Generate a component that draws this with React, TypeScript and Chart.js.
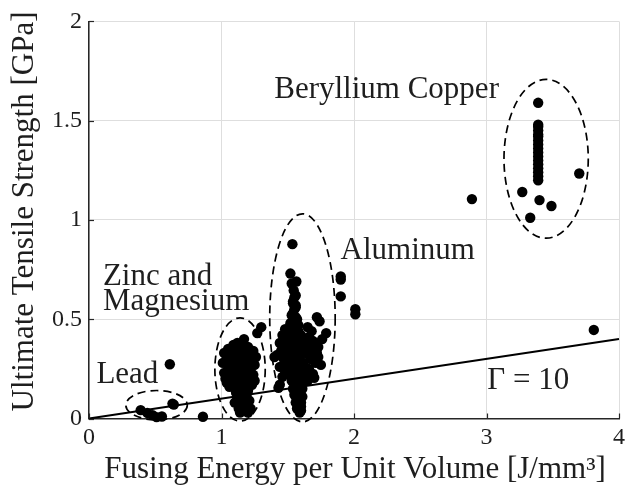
import { useEffect, useRef } from "react";
import { Chart, registerables } from "chart.js";

Chart.register(...registerables);

// Axis ticks
const xTicks = [0, 1, 2, 3, 4];
const yTicks = [0, 0.5, 1, 1.5, 2];

// Lead
const leadEnergy = [0.39, 0.44, 0.48, 0.51, 0.55, 0.63, 0.64, 0.61, 0.86];
const leadStrength = [0.042, 0.028, 0.017, 0.007, 0.01, 0.075, 0.07, 0.273, 0.009];

// Zinc and magnesium
const zincEnergy = [
  1.17, 1.12, 1.09, 1.2, 1.05, 1.14, 1.24, 1.02, 1.1, 1.18, 1.26, 1.04, 1.13, 1.21, 1.01,
  1.08, 1.16, 1.25, 1.05, 1.11, 1.2, 1.02, 1.15, 1.24, 1.07, 1.12, 1.19, 1.04, 1.23, 1.09,
  1.15, 1.2, 1.11, 1.17, 1.12, 1.21, 1.15, 1.19, 1.13, 1.17, 1.22, 1.3, 1.27,
  1.06, 1.15, 1.22, 1.07, 1.13, 1.18, 1.22, 1.09, 1.17, 1.03, 1.1, 1.21, 1.06, 1.14, 1.18,
  1.25, 1.13, 1.19, 1.16, 1.1, 1.14, 1.2, 1.11, 1.16, 1.07, 1.19,
];
const zincStrength = [
  0.4, 0.38, 0.37, 0.36, 0.35, 0.35, 0.34, 0.33, 0.33, 0.32, 0.31, 0.3, 0.3, 0.29, 0.28,
  0.28, 0.27, 0.27, 0.25, 0.25, 0.24, 0.23, 0.22, 0.22, 0.21, 0.2, 0.19, 0.18, 0.17, 0.16,
  0.15, 0.14, 0.13, 0.11, 0.1, 0.09, 0.07, 0.06, 0.05, 0.04, 0.05, 0.46, 0.43,
  0.32, 0.33, 0.31, 0.26, 0.27, 0.26, 0.25, 0.23, 0.23, 0.2, 0.19, 0.2, 0.16, 0.17, 0.16,
  0.19, 0.12, 0.12, 0.09, 0.08, 0.03, 0.03, 0.35, 0.37, 0.3, 0.3,
];

// Aluminum
const aluminumEnergy = [
  1.535, 1.52, 1.53, 1.565, 1.545, 1.55, 1.54, 1.56, 1.55, 1.54, 1.56, 1.55, 1.53, 1.57,
  1.48, 1.46, 1.5, 1.47, 1.44, 1.49, 1.45, 1.42, 1.4, 1.47, 1.5, 1.44, 1.48, 1.46, 1.44, 1.43,
  1.53, 1.56, 1.52, 1.58, 1.54, 1.57, 1.53, 1.56, 1.52, 1.59, 1.55, 1.53, 1.57, 1.54, 1.59,
  1.56, 1.53, 1.58, 1.55, 1.57, 1.54, 1.59, 1.56, 1.58, 1.55, 1.57, 1.59, 1.56, 1.58, 1.57,
  1.59, 1.58, 1.56, 1.59, 1.58, 1.6, 1.58, 1.6, 1.59, 1.6, 1.59,
  1.51, 1.58, 1.51, 1.58, 1.51, 1.6, 1.52, 1.61, 1.53, 1.61, 1.54, 1.61, 1.55, 1.61, 1.56,
  1.57, 1.56, 1.54, 1.56, 1.53, 1.57, 1.52, 1.58, 1.61, 1.62, 1.6,
  1.72, 1.74, 1.65, 1.68, 1.79, 1.76, 1.63, 1.71, 1.66, 1.7, 1.64, 1.68, 1.73, 1.75, 1.62,
  1.66, 1.69, 1.7, 1.63, 1.65, 1.66, 1.69, 1.73, 1.67, 1.71, 1.64, 1.67, 1.72, 1.63,
  1.9, 1.9, 1.9, 2.01, 2.01,
];
const aluminumStrength = [
  0.878, 0.73, 0.68, 0.69, 0.645, 0.61, 0.59, 0.57, 0.55, 0.53, 0.51, 0.49, 0.47, 0.46,
  0.45, 0.42, 0.41, 0.4, 0.38, 0.36, 0.34, 0.32, 0.31, 0.3, 0.28, 0.26, 0.24, 0.21, 0.17, 0.155,
  0.44, 0.43, 0.42, 0.41, 0.4, 0.38, 0.37, 0.36, 0.35, 0.34, 0.33, 0.32, 0.31, 0.3, 0.29,
  0.28, 0.27, 0.26, 0.25, 0.24, 0.23, 0.22, 0.21, 0.2, 0.19, 0.18, 0.17, 0.16, 0.15, 0.14,
  0.13, 0.12, 0.11, 0.1, 0.09, 0.08, 0.07, 0.06, 0.05, 0.04, 0.03,
  0.4, 0.44, 0.33, 0.35, 0.26, 0.27, 0.22, 0.24, 0.19, 0.19, 0.15, 0.15, 0.12, 0.11, 0.08,
  0.05, 0.56, 0.58, 0.62, 0.52, 0.5, 0.48, 0.47, 0.33, 0.37, 0.42,
  0.51, 0.49, 0.46, 0.44, 0.43, 0.4, 0.4, 0.38, 0.36, 0.355, 0.33, 0.32, 0.31, 0.27, 0.28,
  0.25, 0.225, 0.205, 0.22, 0.19, 0.41, 0.39, 0.36, 0.3, 0.28, 0.23, 0.21, 0.33, 0.35,
  0.715, 0.7, 0.615, 0.55, 0.525,
];

// Beryllium copper
const berylliumEnergy = [
  3.39, 3.39, 3.39, 3.39, 3.39, 3.39, 3.39, 3.39, 3.39, 3.39, 3.39, 3.39, 3.39, 3.39, 3.39,
  3.39, 3.39, 3.7, 3.27, 3.4, 3.49, 3.33, 2.89, 3.81,
];
const berylliumStrength = [
  1.59, 1.48, 1.47, 1.45, 1.43, 1.42, 1.4, 1.38, 1.36, 1.34, 1.32, 1.3, 1.28, 1.26, 1.24,
  1.22, 1.2, 1.234, 1.141, 1.1, 1.07, 1.011, 1.105, 0.446,
];

// Reference line, Gamma = 10
const gammaEnergy = [0, 4];
const gammaStrength = [0, 0.4];

// Dashed outlines around each material group (centre and half-widths, data units)
const groupNames = ["Lead", "Zinc", "Aluminum", "Beryllium"];
const groupCenterX = [0.51, 1.14, 1.611, 3.45];
const groupCenterY = [0.067, 0.247, 0.507, 1.308];
const groupRadiusX = [0.232, 0.19, 0.247, 0.318];
const groupRadiusY = [0.074, 0.26, 0.524, 0.4];

// Text labels (left edge and baseline, data units)
const labelTexts = ["Beryllium Copper", "Aluminum", "Zinc and", "Magnesium", "Lead", "Γ = 10"];
const labelX = [1.398, 1.899, 0.105, 0.105, 0.056, 3.006];
const labelY = [1.614, 0.803, 0.674, 0.546, 0.18, 0.151];

const xTitle = "Fusing Energy per Unit Volume [J/mm³]";
const yTitle = "Ultimate Tensile Strength [GPa]";

const FONT = '"Liberation Serif", "Times New Roman", serif';
const TEXT_COLOR = "#1e1e1e";

const toPoints = (xs: number[], ys: number[]) => xs.map((x, i) => ({ x, y: ys[i] }));

const overlay = {
  id: "overlay",
  afterDatasetsDraw(chart: any) {
    const { ctx, chartArea } = chart;
    const xs = chart.scales.x;
    const ys = chart.scales.y;
    ctx.save();

    // inward tick marks
    ctx.strokeStyle = "#262626";
    ctx.lineWidth = 1.2;
    xTicks.forEach((v) => {
      const px = Math.round(xs.getPixelForValue(v)) + 0.5;
      ctx.beginPath();
      ctx.moveTo(px, chartArea.bottom);
      ctx.lineTo(px, chartArea.bottom - 5);
      ctx.stroke();
    });
    yTicks.forEach((v) => {
      const py = Math.round(ys.getPixelForValue(v)) + 0.5;
      ctx.beginPath();
      ctx.moveTo(chartArea.left, py);
      ctx.lineTo(chartArea.left + 5, py);
      ctx.stroke();
    });

    // dashed group outlines
    ctx.strokeStyle = "#000";
    ctx.lineWidth = 1.7;
    ctx.setLineDash([8, 5]);
    groupNames.forEach((_, i) => {
      const cx = xs.getPixelForValue(groupCenterX[i]);
      const cy = ys.getPixelForValue(groupCenterY[i]);
      const rx = Math.abs(xs.getPixelForValue(groupCenterX[i] + groupRadiusX[i]) - cx);
      const ry = Math.abs(ys.getPixelForValue(groupCenterY[i] + groupRadiusY[i]) - cy);
      ctx.beginPath();
      ctx.ellipse(cx, cy, rx, ry, 0, 0, Math.PI * 2);
      ctx.stroke();
    });
    ctx.setLineDash([]);

    // group labels
    ctx.fillStyle = TEXT_COLOR;
    ctx.font = `31px ${FONT}`;
    ctx.textAlign = "left";
    ctx.textBaseline = "alphabetic";
    labelTexts.forEach((t, i) => {
      ctx.fillText(t, xs.getPixelForValue(labelX[i]), ys.getPixelForValue(labelY[i]));
    });

    // axis titles
    ctx.textAlign = "center";
    ctx.fillText(xTitle, (chartArea.left + chartArea.right) / 2 + 1, chartArea.bottom + 59.5);
    ctx.translate(33, (chartArea.top + chartArea.bottom) / 2 - 8.5);
    ctx.rotate(-Math.PI / 2);
    ctx.fillText(yTitle, 0, 0);

    ctx.restore();
  },
};

export default function App() {
  const canvasRef = useRef<HTMLCanvasElement | null>(null);

  useEffect(() => {
    if (!canvasRef.current) return;
    const pointStyle = {
      type: "scatter" as const,
      pointRadius: 5.2,
      pointBackgroundColor: "#000",
      pointBorderWidth: 0,
      showLine: false,
      clip: false as const,
    };
    const tickFont = { family: FONT, size: 24 };
    const chart = new Chart(canvasRef.current, {
      type: "scatter",
      data: {
        datasets: [
          {
            type: "line",
            label: "Γ = 10",
            data: toPoints(gammaEnergy, gammaStrength),
            borderColor: "#000",
            borderWidth: 2,
            pointRadius: 0,
            fill: false,
            clip: false,
          } as any,
          { ...pointStyle, label: "Lead", data: toPoints(leadEnergy, leadStrength) },
          { ...pointStyle, label: "Zinc and Magnesium", data: toPoints(zincEnergy, zincStrength) },
          { ...pointStyle, label: "Aluminum", data: toPoints(aluminumEnergy, aluminumStrength) },
          { ...pointStyle, label: "Beryllium Copper", data: toPoints(berylliumEnergy, berylliumStrength) },
        ],
      },
      options: {
        responsive: false,
        animation: false,
        events: [],
        layout: { padding: { top: 14, right: 6, left: 0, bottom: 0 } },
        plugins: { legend: { display: false }, tooltip: { enabled: false } },
        scales: {
          x: {
            type: "linear",
            min: 0,
            max: 4,
            afterBuildTicks: (scale: any) => {
              scale.ticks = xTicks.map((value) => ({ value }));
            },
            afterFit: (scale: any) => {
              scale.height = 76.5;
            },
            grid: { color: "#dedede", lineWidth: 1, drawTicks: false },
            border: { color: "#262626", width: 1.5 },
            ticks: {
              padding: 5,
              color: TEXT_COLOR,
              font: tickFont,
              callback: (v: any) => String(v),
            },
          },
          y: {
            type: "linear",
            min: 0,
            max: 2,
            afterBuildTicks: (scale: any) => {
              scale.ticks = yTicks.map((value) => ({ value }));
            },
            afterFit: (scale: any) => {
              scale.width = 89;
            },
            grid: { color: "#dedede", lineWidth: 1, drawTicks: false },
            border: { color: "#262626", width: 1.5 },
            ticks: {
              padding: 7,
              color: TEXT_COLOR,
              font: tickFont,
              callback: (v: any) => String(v),
            },
          },
        },
      },
      plugins: [overlay],
    });
    return () => chart.destroy();
  }, []);

  return (
    <div style={{ position: "fixed", left: 0, top: 0, width: 630, height: 495, background: "#fff" }}>
      <canvas ref={canvasRef} width={630} height={495} />
    </div>
  );
}
